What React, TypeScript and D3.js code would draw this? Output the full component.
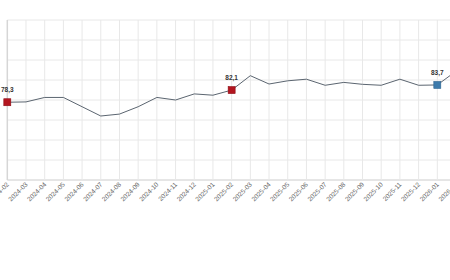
import React from "react";
import * as d3 from "d3";

const months: string[] = [
  "2024-02", "2024-03", "2024-04", "2024-05", "2024-06", "2024-07", "2024-08",
  "2024-09", "2024-10", "2024-11", "2024-12", "2025-01", "2025-02", "2025-03",
  "2025-04", "2025-05", "2025-06", "2025-07", "2025-08", "2025-09", "2025-10",
  "2025-11", "2025-12", "2026-01", "2026-02",
];
const values: number[] = [
  78.3, 78.4, 79.8, 79.8, 76.9, 74.0, 74.6, 76.9, 79.8, 79.0, 80.9, 80.5, 82.1,
  86.6, 84.0, 85.0, 85.5, 83.6, 84.5, 83.9, 83.6, 85.5, 83.6, 83.7, 88.0,
];
const redMarks: string[] = ["2024-02", "2025-02"];
const blueMarks: string[] = ["2026-01"];
const yDomain: [number, number] = [54, 104];
const gridCount = 8;

const W = 450;
const H = 280;

export default function App() {
  const x = d3.scalePoint<string>().domain(months).range([7.3, 456]);
  const y = d3.scaleLinear().domain(yDomain).range([180, 20]);
  const gridVals = d3.range(gridCount + 1).map(
    (k) => yDomain[0] + (k * (yDomain[1] - yDomain[0])) / gridCount
  );
  const data = months.map((m, i) => ({ m, v: values[i] }));
  const line = d3
    .line<{ m: string; v: number }>()
    .x((d) => x(d.m)!)
    .y((d) => y(d.v));
  const fmt = (v: number) => v.toFixed(1).replace(".", ",");
  const marks = data.filter((d) => redMarks.includes(d.m) || blueMarks.includes(d.m));

  return (
    <svg
      width={W}
      height={H}
      style={{ position: "absolute", left: 0, top: 0, background: "#fff" }}
      fontFamily="'Liberation Sans', Arial, sans-serif"
    >
      {gridVals.map((g, i) => (
        <line
          key={"h" + i}
          x1={x(months[0])!}
          x2={W}
          y1={y(g)}
          y2={y(g)}
          stroke={i === 0 ? "#cccccc" : "#e8e8e8"}
          strokeWidth={1}
        />
      ))}
      {months.map((m, i) => (
        <line
          key={"v" + m}
          x1={x(m)!}
          x2={x(m)!}
          y1={y(yDomain[1])}
          y2={y(yDomain[0])}
          stroke={i === 0 ? "#d6d6d6" : "#e8e8e8"}
          strokeWidth={i === 0 ? 1.5 : 1}
        />
      ))}
      {months.map((m) => (
        <text
          key={"t" + m}
          transform={`translate(${x(m)! + 2},${185}) rotate(-45)`}
          textAnchor="end"
          fontSize={6.5}
          fill="#666"
        >
          {m}
        </text>
      ))}
      <path d={line(data) || ""} fill="none" stroke="#5b6570" strokeWidth={1} />
      {marks.map((d) => {
        const blue = blueMarks.includes(d.m);
        const cx = x(d.m)!;
        const cy = y(d.v);
        return (
          <g key={"m" + d.m}>
            <rect
              x={cx - 3.5}
              y={cy - 3.5}
              width={7}
              height={7}
              fill={blue ? "#3d7aab" : "#b3151f"}
              stroke={blue ? "#2f6590" : "#8e0e16"}
              strokeWidth={0.6}
            />
            <text
              x={cx}
              y={cy - 10}
              textAnchor="middle"
              fontSize={6.5}
              fontWeight="bold"
              fill="#333"
            >
              {fmt(d.v)}
            </text>
          </g>
        );
      })}
    </svg>
  );
}
